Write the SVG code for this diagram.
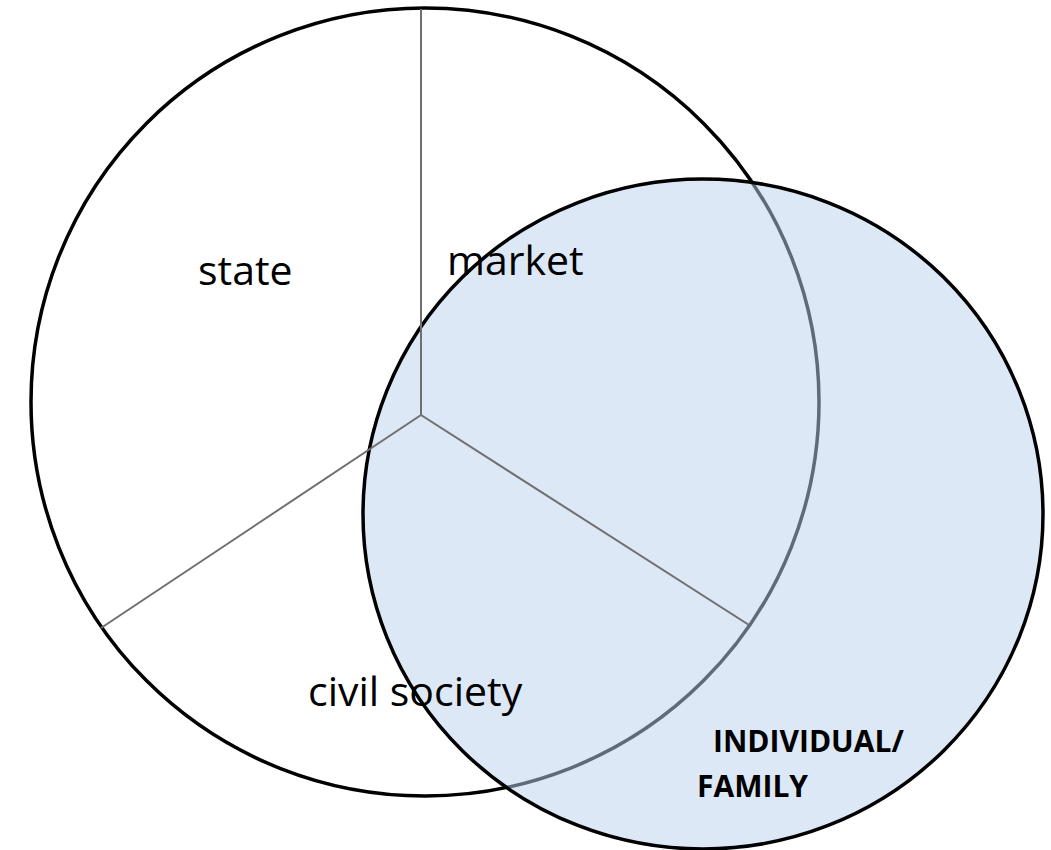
<svg xmlns="http://www.w3.org/2000/svg" width="1051" height="850" viewBox="0 0 1051 850">
  <style>
    .ring { fill: none; stroke: #000; stroke-width: 3.5; }
    .divider { stroke: #6f6f6f; stroke-width: 2; fill: none; }
    .sector { font-family: "Open Sans", "Liberation Sans", sans-serif; font-size: 41px; fill: #000; }
    .household { font-family: "Open Sans", "Liberation Sans", sans-serif; font-size: 30px; font-weight: bold; fill: #000; }
  </style>
  <rect width="1051" height="850" fill="#fff"/>

  <!-- large circle split into three sectors -->
  <g id="society">
    <circle class="ring" cx="425" cy="402" r="394"/>
  </g>

  <!-- translucent household circle laid over the sectors -->
  <g id="individual-family">
    <ellipse cx="703" cy="514" rx="340" ry="335" fill="rgb(186,210,235)" fill-opacity="0.51" stroke="#000" stroke-width="3.5"/>
  </g>

  <g id="connectors">
    <line class="divider" x1="421" y1="9" x2="421" y2="415"/>
    <line class="divider" x1="421" y1="415" x2="101" y2="628"/>
    <line class="divider" x1="421" y1="415" x2="749" y2="625"/>
  </g>

  <g id="state"><text class="sector" x="198" y="285">state</text></g>
  <g id="market"><text class="sector" x="447" y="275">market</text></g>
  <g id="civil-society"><text class="sector" x="308" y="706">civil society</text></g>
  <g id="individual-family-label">
    <text class="household" x="713" y="752">INDIVIDUAL/</text>
    <text class="household" x="697" y="797">FAMILY</text>
  </g>
</svg>
